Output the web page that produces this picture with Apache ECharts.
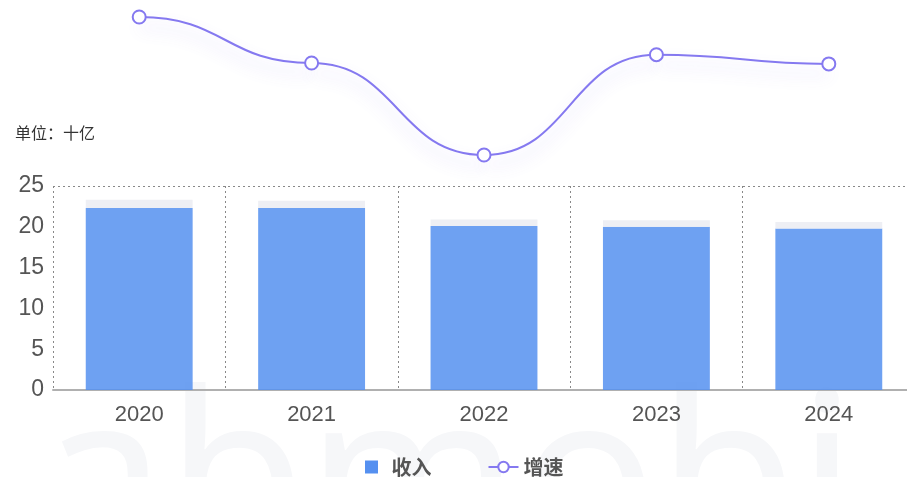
<!DOCTYPE html>
<html>
<head>
<meta charset="utf-8">
<script src="https://cdn.jsdelivr.net/npm/echarts@6/dist/echarts.min.js"></script>
<style>
  html, body { margin: 0; padding: 0; background: #fff; overflow: hidden; }
  #chart { width: 916px; height: 477px; }
</style>
</head>
<body>
<div id="chart"></div>
<script>
// Years on the category axis
const years = ['2020', '2021', '2022', '2023', '2024'];
// Revenue, in billions (十亿)
const revenue = [22.3, 22.3, 20.1, 20.0, 19.8];
// Light cap stacked on top of each revenue bar
const revenueCap = [1.0, 0.9, 0.8, 0.8, 0.8];
// Growth rate (%)
const growth = [5.0, 0.0, -10.0, 0.9, -0.1];
// Value-axis ticks
const yTicks = [0, 5, 10, 15, 20, 25];

const chart = echarts.init(document.getElementById('chart'), null, { renderer: 'canvas' });

const cjk = '"Noto Sans CJK SC", "Noto Sans", sans-serif';
const latin = '"Liberation Sans", "Helvetica", sans-serif';
const lineColor = '#8579f0';

// Growth curve: each segment is a cubic with flat tangents at both ends
function renderGrowthSegment(params, api) {
  const i = params.dataIndex;
  if (i >= growth.length - 1) return null;
  const p0 = api.coord([i, growth[i]]);
  const p1 = api.coord([i + 1, growth[i + 1]]);
  const dx = (p1[0] - p0[0]) * 0.5;
  return {
    type: 'bezierCurve',
    shape: {
      x1: p0[0], y1: p0[1],
      cpx1: p0[0] + dx, cpy1: p0[1],
      cpx2: p1[0] - dx, cpy2: p1[1],
      x2: p1[0], y2: p1[1]
    },
    style: {
      fill: null,
      stroke: lineColor,
      lineWidth: 2,
      shadowColor: 'rgba(120,100,240,0.3)',
      shadowBlur: 16,
      shadowOffsetY: 10
    }
  };
}

chart.setOption({
  animation: false,
  textStyle: { fontFamily: cjk },
  graphic: [
    {
      type: 'text',
      left: 38,
      top: 377,
      z: -10,
      silent: true,
      style: {
        text: 'abmobi',
        font: 'normal 228px "Noto Sans", sans-serif',
        fill: '#f6f7f9'
      }
    },
    {
      type: 'text',
      left: 15,
      top: 125,
      style: {
        text: '单位：十亿',
        font: '16px "Noto Sans CJK SC", sans-serif',
        fill: '#333'
      }
    }
  ],
  legend: {
    left: 360,
    top: 452,
    itemGap: 56,
    itemWidth: 30,
    itemHeight: 13,
    symbolKeepAspect: true,
    textStyle: { fontSize: 20, fontWeight: 'bold', color: '#555', fontFamily: cjk },
    data: [
      { name: '收入', icon: 'path://M0,0H12V12H0Z', itemStyle: { color: '#5590f0', opacity: 1 } },
      { name: '增速', lineStyle: { width: 2, color: lineColor, opacity: 1 } }
    ]
  },
  grid: [
    { left: 53, width: 862, top: 186, bottom: 87 },
    { left: 53, width: 862, top: 17, height: 138 }
  ],
  xAxis: [
    {
      type: 'category',
      gridIndex: 0,
      data: years,
      axisLine: { lineStyle: { color: '#b0b0b0', width: 2 } },
      axisTick: { show: false },
      axisLabel: { fontSize: 22, color: '#555', margin: 14, fontFamily: latin },
      splitLine: { show: true, lineStyle: { color: '#888', type: [2, 3], width: 1 } }
    },
    {
      type: 'category',
      gridIndex: 1,
      data: years,
      show: false
    }
  ],
  yAxis: [
    {
      type: 'value',
      gridIndex: 0,
      min: yTicks[0],
      max: yTicks[yTicks.length - 1],
      interval: yTicks[1] - yTicks[0],
      axisLine: { show: false },
      axisTick: { show: false },
      axisLabel: { fontSize: 23, color: '#555', margin: 9, fontFamily: latin },
      splitLine: {
        show: true,
        lineStyle: {
          color: ['transparent', 'transparent', 'transparent', 'transparent', 'transparent', '#888'],
          type: [2, 3],
          width: 1
        }
      }
    },
    {
      type: 'value',
      gridIndex: 1,
      min: -10,
      max: 5,
      show: false,
      splitLine: { show: false }
    }
  ],
  series: [
    {
      name: '收入',
      type: 'bar',
      xAxisIndex: 0,
      yAxisIndex: 0,
      stack: 'rev',
      barWidth: '62%',
      data: revenue,
      itemStyle: { color: '#5590f0', opacity: 0.85 }
    },
    {
      name: 'cap',
      type: 'bar',
      xAxisIndex: 0,
      yAxisIndex: 0,
      stack: 'rev',
      barWidth: '62%',
      data: revenueCap,
      itemStyle: { color: '#eeeff4' },
      silent: true
    },
    {
      name: 'growthCurve',
      type: 'custom',
      xAxisIndex: 1,
      yAxisIndex: 1,
      data: growth.map((v, i) => [i, v]),
      renderItem: renderGrowthSegment,
      silent: true,
      z: 2
    },
    {
      name: '增速',
      type: 'line',
      xAxisIndex: 1,
      yAxisIndex: 1,
      data: growth,
      symbol: 'circle',
      symbolSize: 13,
      color: lineColor,
      lineStyle: { width: 0, opacity: 0 },
      itemStyle: { color: '#fff', borderColor: lineColor, borderWidth: 2 },
      z: 3
    }
  ]
});
</script>
</body>
</html>
